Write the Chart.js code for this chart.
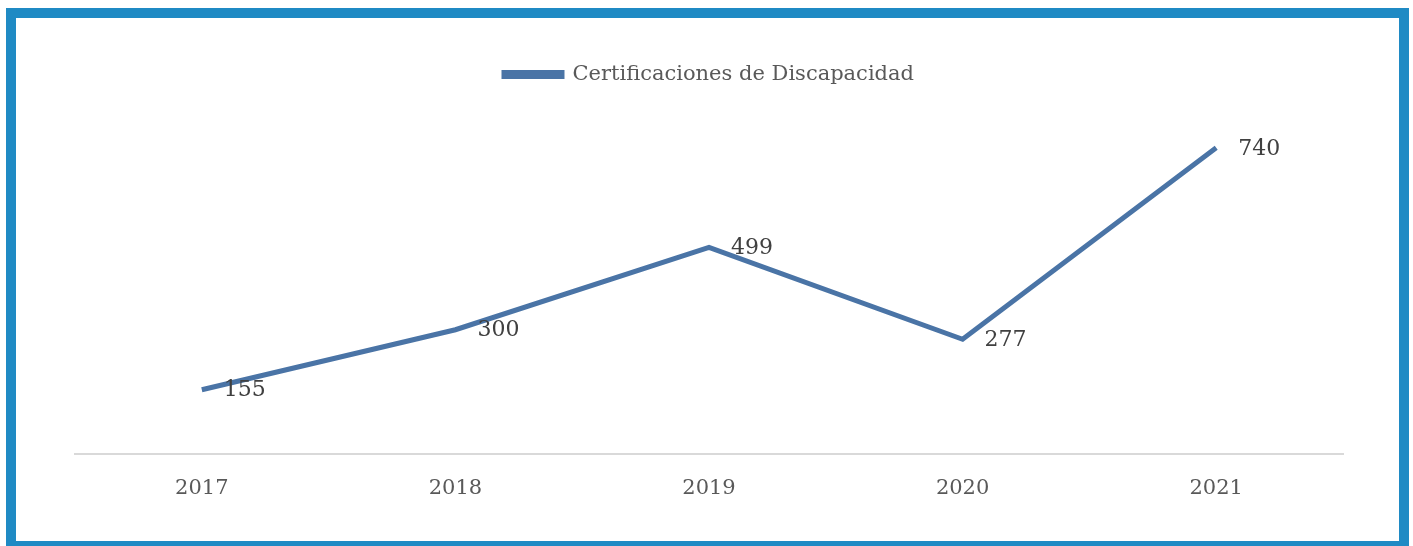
<!DOCTYPE html>
<html>
<head>
<meta charset="utf-8">
<script src="https://cdn.jsdelivr.net/npm/chart.js@4"></script>
<style>
  html, body { margin: 0; padding: 0; background: #fff; overflow: hidden; }
  #frame {
    position: absolute; left: 6px; top: 8px;
    width: 1403px; height: 543px;
    box-sizing: border-box;
    border: 10px solid #1f8ac4;
  }
  #grafico { position: absolute; left: 17px; top: 18px; }
</style>
</head>
<body>
<div id="frame"></div>
<canvas id="grafico" width="1382" height="523"></canvas>
<script>
const anios = ['2017', '2018', '2019', '2020', '2021'];
const certificaciones = [155, 300, 499, 277, 740];
const nombreSerie = 'Certificaciones de Discapacidad';

const fuente = 'DejaVu Serif';
const azul = '#4a74a6';

// etiquetas de valor a la derecha de cada punto
const etiquetasValor = {
  id: 'etiquetasValor',
  afterDatasetsDraw(chart) {
    const ctx = chart.ctx;
    const meta = chart.getDatasetMeta(0);
    ctx.save();
    ctx.font = '22px "' + fuente + '"';
    ctx.fillStyle = '#404040';
    ctx.textAlign = 'left';
    ctx.textBaseline = 'middle';
    meta.data.forEach((punto, i) => {
      ctx.fillText(chart.data.datasets[0].data[i], punto.x + 22, punto.y + 1);
    });
    ctx.restore();
  }
};

// deja más aire entre la leyenda y el área del gráfico
const espacioLeyenda = {
  id: 'espacioLeyenda',
  beforeInit(chart) {
    const fitOriginal = chart.legend.fit;
    chart.legend.fit = function () {
      fitOriginal.bind(chart.legend)();
      this.height += 28;
    };
  }
};

const ctx = document.getElementById('grafico').getContext('2d');
new Chart(ctx, {
  type: 'line',
  data: {
    labels: anios,
    datasets: [{
      label: nombreSerie,
      data: certificaciones,
      borderColor: azul,
      backgroundColor: azul,
      borderWidth: 5,
      pointRadius: 0,
      tension: 0
    }]
  },
  options: {
    responsive: false,
    animation: false,
    layout: { padding: { left: 58, right: 56, top: 36, bottom: 26 } },
    plugins: {
      legend: {
        position: 'top',
        labels: {
          boxWidth: 58,
          boxHeight: 4,
          padding: 10,
          color: '#595959',
          font: { family: fuente, size: 21 }
        }
      },
      tooltip: { enabled: false }
    },
    scales: {
      x: {
        offset: true,
        grid: { display: false },
        border: { display: true, color: '#d9d9d9', width: 2 },
        ticks: { color: '#595959', padding: 14, font: { family: fuente, size: 21 } }
      },
      y: {
        display: false,
        min: 0,
        max: 800
      }
    }
  },
  plugins: [etiquetasValor, espacioLeyenda]
});
</script>
</body>
</html>
